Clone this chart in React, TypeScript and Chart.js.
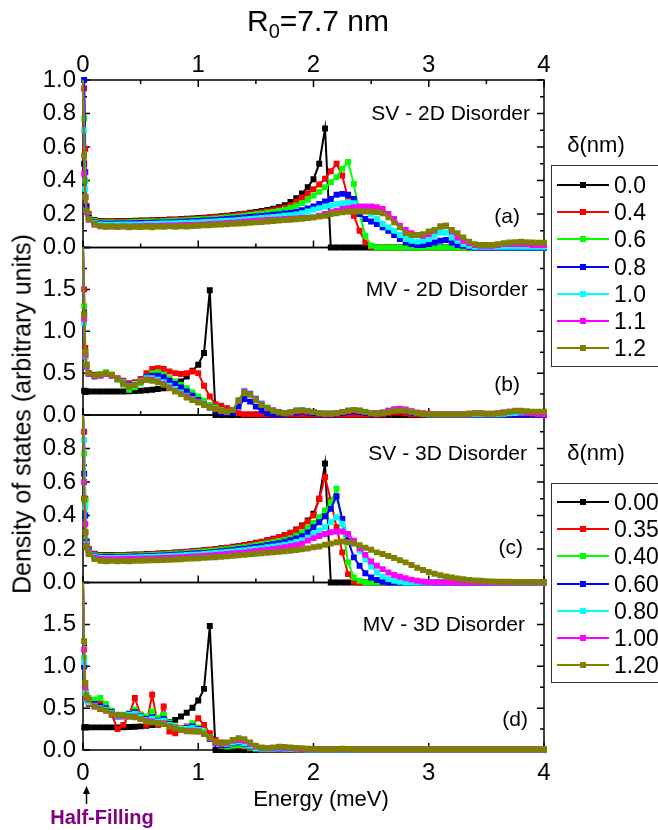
import React, { useEffect, useRef } from 'react';
import { Chart, registerables } from 'chart.js';
Chart.register(...registerables);

const FONT = "Arial, 'Liberation Sans', Helvetica, sans-serif";

// Energy grid (meV)
const energy = [0, 0.01, 0.02, 0.03,
  0.05, 0.1, 0.15, 0.2, 0.25, 0.3, 0.35, 0.4, 0.45, 0.5,
  0.55, 0.6, 0.65, 0.7, 0.75, 0.8, 0.85, 0.9, 0.95, 1.0,
  1.05, 1.1, 1.15, 1.2, 1.25, 1.3, 1.35, 1.4, 1.45, 1.5,
  1.55, 1.6, 1.65, 1.7, 1.75, 1.8, 1.85, 1.9, 1.95, 2.0,
  2.05, 2.1, 2.15, 2.2, 2.25, 2.3, 2.35, 2.4, 2.45, 2.5,
  2.55, 2.6, 2.65, 2.7, 2.75, 2.8, 2.85, 2.9, 2.95, 3.0,
  3.05, 3.1, 3.15, 3.2, 3.25, 3.3, 3.35, 3.4, 3.45, 3.5,
  3.55, 3.6, 3.65, 3.7, 3.75, 3.8, 3.85, 3.9, 3.95, 4.0];

const colors = ['#000000', '#FF0000', '#00FF00', '#0000FF', '#00FFFF', '#FF00FF', '#808000'];
const legend2D = ['0.0', '0.4', '0.6', '0.8', '1.0', '1.1', '1.2'];
const legend3D = ['0.00', '0.35', '0.40', '0.60', '0.80', '1.00', '1.20'];

// (a) SV - 2D disorder
const sv2d_00 = [1.0, 0.5, 0.3, 0.22,
  0.19, 0.165, 0.158, 0.157, 0.157, 0.158, 0.158, 0.159, 0.16, 0.161,
  0.162, 0.163, 0.164, 0.165, 0.167, 0.168, 0.17, 0.172, 0.174, 0.176,
  0.178, 0.181, 0.184, 0.187, 0.19, 0.194, 0.198, 0.202, 0.207, 0.212,
  0.218, 0.224, 0.231, 0.24, 0.252, 0.272, 0.294, 0.322, 0.36, 0.408,
  0.5, 0.71, 0, 0, 0, 0, 0, 0, 0, 0,
  0, 0, 0, 0, 0, 0, 0, 0, 0, 0,
  0, 0, 0, 0, 0, 0, 0, 0, 0, 0,
  0, 0, 0, 0, 0, 0, 0, 0, 0, 0];
const sv2d_04 = [1.0, 0.95, 0.59, 0.25,
  0.2, 0.162, 0.155, 0.154, 0.154, 0.155, 0.155, 0.156, 0.157, 0.158,
  0.159, 0.16, 0.161, 0.162, 0.164, 0.165, 0.167, 0.169, 0.171, 0.173,
  0.175, 0.178, 0.181, 0.184, 0.187, 0.19, 0.194, 0.198, 0.202, 0.206,
  0.211, 0.216, 0.222, 0.229, 0.237, 0.252, 0.274, 0.298, 0.322, 0.348,
  0.376, 0.41, 0.455, 0.5, 0.43, 0.29, 0.19, 0.1, 0.03, 0.005,
  0, 0, 0, 0, 0, 0, 0, 0, 0, 0,
  0, 0, 0, 0, 0, 0, 0, 0, 0, 0,
  0, 0, 0, 0, 0, 0, 0, 0, 0, 0];
const sv2d_06 = [1.0, 0.77, 0.4, 0.23,
  0.19, 0.158, 0.15, 0.149, 0.149, 0.15, 0.15, 0.151, 0.152, 0.153,
  0.154, 0.155, 0.156, 0.157, 0.158, 0.16, 0.161, 0.163, 0.165, 0.167,
  0.169, 0.171, 0.174, 0.177, 0.18, 0.183, 0.186, 0.19, 0.194, 0.198,
  0.202, 0.207, 0.212, 0.218, 0.225, 0.238, 0.25, 0.265, 0.285, 0.31,
  0.332, 0.36, 0.39, 0.42, 0.47, 0.51, 0.38, 0.2, 0.07, 0.01,
  0, 0, 0, 0, 0, 0, 0, 0, 0, 0,
  0, 0, 0, 0, 0, 0, 0, 0, 0, 0,
  0, 0, 0, 0, 0, 0, 0, 0, 0, 0];
const sv2d_08 = [1.0, 1.0, 0.45, 0.24,
  0.18, 0.15, 0.143, 0.142, 0.142, 0.143, 0.143, 0.144, 0.145, 0.146,
  0.147, 0.148, 0.149, 0.15, 0.151, 0.152, 0.154, 0.155, 0.157, 0.159,
  0.161, 0.163, 0.165, 0.168, 0.17, 0.173, 0.176, 0.179, 0.182, 0.185,
  0.188, 0.191, 0.195, 0.199, 0.203, 0.206, 0.213, 0.222, 0.233, 0.245,
  0.26, 0.275, 0.29, 0.315, 0.32, 0.315, 0.29, 0.2, 0.17, 0.155,
  0.14, 0.12, 0.1, 0.075, 0.05, 0.03, 0.02, 0.015, 0.015, 0.02,
  0.03, 0.04, 0.045, 0.03, 0.015, 0.01, 0.005, 0, 0, 0,
  0, 0, 0, 0, 0, 0, 0, 0, 0, 0];
const sv2d_10 = [1.0, 0.7, 0.35, 0.22,
  0.17, 0.145, 0.138, 0.136, 0.136, 0.137, 0.137, 0.138, 0.138, 0.139,
  0.14, 0.141, 0.142, 0.143, 0.144, 0.145, 0.146, 0.147, 0.149, 0.15,
  0.152, 0.154, 0.156, 0.158, 0.16, 0.162, 0.165, 0.168, 0.171, 0.174,
  0.177, 0.18, 0.183, 0.186, 0.189, 0.192, 0.197, 0.205, 0.215, 0.225,
  0.235, 0.245, 0.25, 0.26, 0.265, 0.27, 0.265, 0.24, 0.22, 0.2,
  0.17, 0.14, 0.12, 0.1, 0.075, 0.05, 0.04, 0.035, 0.04, 0.05,
  0.07, 0.09, 0.09, 0.06, 0.04, 0.02, 0.01, 0.005, 0.005, 0.005,
  0.005, 0.005, 0.005, 0.005, 0.005, 0.005, 0.005, 0.005, 0.005, 0.005];
const sv2d_11 = [1.0, 0.44, 0.3, 0.21,
  0.165, 0.135, 0.127, 0.125, 0.125, 0.125, 0.126, 0.126, 0.127, 0.127,
  0.128, 0.128, 0.129, 0.13, 0.131, 0.132, 0.133, 0.134, 0.135, 0.136,
  0.138, 0.14, 0.142, 0.144, 0.146, 0.148, 0.151, 0.154, 0.157, 0.16,
  0.162, 0.164, 0.166, 0.168, 0.17, 0.172, 0.174, 0.176, 0.178, 0.18,
  0.19, 0.2, 0.21, 0.22, 0.23, 0.235, 0.24, 0.245, 0.245, 0.245,
  0.24, 0.23, 0.2, 0.17, 0.13, 0.105, 0.085, 0.075, 0.07, 0.08,
  0.1, 0.125, 0.13, 0.095, 0.06, 0.04, 0.025, 0.015, 0.01, 0.01,
  0.01, 0.015, 0.02, 0.02, 0.02, 0.02, 0.02, 0.015, 0.015, 0.015];
const sv2d_12 = [1.0, 0.55, 0.3, 0.22,
  0.17, 0.14, 0.128, 0.124, 0.127, 0.122, 0.125, 0.121, 0.124, 0.122,
  0.124, 0.121, 0.125, 0.123, 0.126, 0.124, 0.127, 0.125, 0.128, 0.13,
  0.132, 0.133, 0.135, 0.137, 0.139, 0.141, 0.143, 0.145, 0.148, 0.15,
  0.152, 0.155, 0.158, 0.161, 0.164, 0.166, 0.169, 0.172, 0.176, 0.18,
  0.185, 0.19, 0.2, 0.205, 0.21, 0.213, 0.215, 0.215, 0.215, 0.214,
  0.212, 0.205, 0.18, 0.15, 0.12, 0.085, 0.075, 0.075, 0.08, 0.095,
  0.105, 0.125, 0.13, 0.105, 0.085, 0.06, 0.035, 0.02, 0.015, 0.015,
  0.015, 0.02, 0.025, 0.03, 0.032, 0.035, 0.032, 0.03, 0.028, 0.028];

// (b) MV - 2D disorder
const mv2d_00 = [0.3, 0.29, 0.28, 0.28,
  0.28, 0.28, 0.28, 0.28, 0.28, 0.28, 0.28, 0.282, 0.285, 0.29,
  0.295, 0.302, 0.31, 0.32, 0.335, 0.36, 0.4, 0.46, 0.53, 0.6,
  0.74, 1.49, 0, 0, 0, 0, 0, 0, 0, 0,
  0, 0, 0, 0, 0, 0, 0, 0, 0, 0,
  0, 0, 0, 0, 0, 0, 0, 0, 0, 0,
  0, 0, 0, 0, 0, 0, 0, 0, 0, 0,
  0, 0, 0, 0, 0, 0, 0, 0, 0, 0,
  0, 0, 0, 0, 0, 0, 0, 0, 0, 0];
const mv2d_04 = [2.0, 1.5, 0.8, 0.6,
  0.5, 0.48, 0.48, 0.49, 0.47, 0.44, 0.41, 0.38, 0.39, 0.43,
  0.5, 0.55, 0.56, 0.55, 0.52, 0.5, 0.49, 0.5, 0.52, 0.5,
  0.35, 0.22, 0.13, 0.11, 0.08, 0.04, 0.02, 0.01, 0.01, 0.01,
  0.01, 0.01, 0.005, 0.005, 0.005, 0.005, 0.01, 0.01, 0.005, 0.005,
  0.005, 0.005, 0.005, 0.005, 0.005, 0.005, 0.005, 0.005, 0.005, 0.005,
  0.005, 0.01, 0.02, 0.03, 0.03, 0.02, 0.01, 0.005, 0.005, 0.005,
  0.005, 0.005, 0.005, 0.005, 0.005, 0.005, 0.005, 0.005, 0.005, 0.005,
  0.005, 0.005, 0.005, 0.005, 0.005, 0.005, 0.005, 0.005, 0.005, 0.005];
const mv2d_06 = [2.0, 1.3, 0.75, 0.6,
  0.5, 0.47, 0.49, 0.51, 0.48, 0.42, 0.36, 0.3, 0.33, 0.38,
  0.45, 0.5, 0.51, 0.48, 0.44, 0.4, 0.36, 0.32, 0.27, 0.22,
  0.17, 0.12, 0.09, 0.06, 0.04, 0.05, 0.14, 0.26, 0.25, 0.19,
  0.13, 0.08, 0.05, 0.03, 0.02, 0.03, 0.05, 0.055, 0.045, 0.03,
  0.02, 0.015, 0.015, 0.02, 0.03, 0.045, 0.05, 0.045, 0.03, 0.02,
  0.02, 0.03, 0.05, 0.065, 0.07, 0.06, 0.04, 0.025, 0.015, 0.01,
  0.01, 0.01, 0.01, 0.01, 0.01, 0.01, 0.01, 0.01, 0.01, 0.01,
  0.01, 0.01, 0.01, 0.015, 0.02, 0.02, 0.015, 0.01, 0.01, 0.01];
const mv2d_08 = [2.0, 1.2, 0.7, 0.58,
  0.5, 0.47, 0.47, 0.49, 0.47, 0.43, 0.39, 0.36, 0.37, 0.41,
  0.45, 0.47, 0.47, 0.45, 0.41, 0.37, 0.33, 0.28, 0.23, 0.18,
  0.13, 0.09, 0.06, 0.03, 0.02, 0.03, 0.1, 0.19, 0.16, 0.1,
  0.05, 0.02, 0.01, 0.01, 0.01, 0.02, 0.03, 0.04, 0.03, 0.02,
  0.015, 0.01, 0.01, 0.015, 0.025, 0.035, 0.04, 0.035, 0.025, 0.015,
  0.015, 0.02, 0.035, 0.05, 0.055, 0.045, 0.03, 0.02, 0.01, 0.005,
  0.005, 0.005, 0.005, 0.005, 0.005, 0.005, 0.005, 0.005, 0.005, 0.005,
  0.005, 0.005, 0.005, 0.005, 0.005, 0.005, 0.005, 0.005, 0.005, 0.005];
const mv2d_10 = [2.0, 1.1, 0.7, 0.58,
  0.49, 0.46, 0.47, 0.49, 0.47, 0.43, 0.39, 0.35, 0.37, 0.41,
  0.44, 0.44, 0.42, 0.39, 0.35, 0.31, 0.27, 0.23, 0.19, 0.16,
  0.125, 0.095, 0.07, 0.05, 0.035, 0.06, 0.18, 0.29, 0.26, 0.2,
  0.14, 0.09, 0.06, 0.04, 0.025, 0.035, 0.055, 0.06, 0.05, 0.035,
  0.025, 0.02, 0.02, 0.025, 0.035, 0.05, 0.06, 0.055, 0.04, 0.025,
  0.02, 0.025, 0.04, 0.055, 0.06, 0.055, 0.04, 0.025, 0.015, 0.01,
  0.01, 0.01, 0.01, 0.01, 0.01, 0.01, 0.01, 0.01, 0.01, 0.01,
  0.01, 0.01, 0.015, 0.02, 0.025, 0.03, 0.03, 0.025, 0.02, 0.015];
const mv2d_11 = [2.0, 1.15, 0.72, 0.58,
  0.49, 0.46, 0.47, 0.49, 0.47, 0.43, 0.38, 0.34, 0.36, 0.4,
  0.42, 0.42, 0.4, 0.37, 0.33, 0.29, 0.255, 0.22, 0.185, 0.155,
  0.125, 0.095, 0.07, 0.05, 0.035, 0.06, 0.17, 0.28, 0.25, 0.19,
  0.13, 0.085, 0.055, 0.035, 0.02, 0.03, 0.05, 0.055, 0.045, 0.035,
  0.02, 0.015, 0.015, 0.02, 0.035, 0.05, 0.06, 0.05, 0.035, 0.02,
  0.02, 0.03, 0.05, 0.07, 0.075, 0.065, 0.045, 0.03, 0.02, 0.015,
  0.01, 0.01, 0.01, 0.01, 0.01, 0.01, 0.015, 0.02, 0.02, 0.015,
  0.015, 0.02, 0.03, 0.04, 0.045, 0.04, 0.03, 0.02, 0.015, 0.01];
const mv2d_12 = [2.0, 1.2, 0.75, 0.6,
  0.5, 0.47, 0.48, 0.5, 0.48, 0.43, 0.38, 0.34, 0.36, 0.4,
  0.42, 0.41, 0.39, 0.36, 0.32, 0.28, 0.25, 0.21, 0.18, 0.15,
  0.12, 0.09, 0.07, 0.05, 0.035, 0.06, 0.17, 0.27, 0.24, 0.18,
  0.12, 0.08, 0.05, 0.03, 0.02, 0.03, 0.05, 0.055, 0.045, 0.035,
  0.02, 0.015, 0.015, 0.02, 0.035, 0.05, 0.06, 0.05, 0.035, 0.02,
  0.015, 0.02, 0.035, 0.05, 0.055, 0.05, 0.04, 0.025, 0.015, 0.01,
  0.01, 0.01, 0.01, 0.01, 0.01, 0.01, 0.015, 0.02, 0.02, 0.015,
  0.015, 0.02, 0.03, 0.04, 0.05, 0.05, 0.045, 0.04, 0.04, 0.04];

// (c) SV - 3D disorder
const sv3d_000 = [1.0, 0.5, 0.3, 0.23,
  0.2, 0.172, 0.165, 0.164, 0.164, 0.165, 0.165, 0.166, 0.167, 0.168,
  0.17, 0.171, 0.173, 0.175, 0.177, 0.179, 0.181, 0.184, 0.187, 0.19,
  0.193, 0.196, 0.2, 0.204, 0.208, 0.213, 0.218, 0.224, 0.23, 0.237,
  0.244, 0.252, 0.261, 0.271, 0.282, 0.297, 0.316, 0.34, 0.37, 0.41,
  0.5, 0.71, 0, 0, 0, 0, 0, 0, 0, 0,
  0, 0, 0, 0, 0, 0, 0, 0, 0, 0,
  0, 0, 0, 0, 0, 0, 0, 0, 0, 0,
  0, 0, 0, 0, 0, 0, 0, 0, 0, 0];
const sv3d_035 = [1.0, 0.9, 0.5, 0.25,
  0.2, 0.17, 0.163, 0.162, 0.162, 0.163, 0.163, 0.164, 0.165, 0.166,
  0.168, 0.169, 0.171, 0.173, 0.175, 0.177, 0.179, 0.182, 0.185, 0.188,
  0.191, 0.194, 0.198, 0.202, 0.206, 0.211, 0.216, 0.222, 0.228, 0.235,
  0.242, 0.25, 0.259, 0.269, 0.28, 0.295, 0.313, 0.336, 0.364, 0.4,
  0.5, 0.63, 0.49, 0.33, 0.18, 0.05, 0.005, 0, 0, 0,
  0, 0, 0, 0, 0, 0, 0, 0, 0, 0,
  0, 0, 0, 0, 0, 0, 0, 0, 0, 0,
  0, 0, 0, 0, 0, 0, 0, 0, 0, 0];
const sv3d_040 = [1.0, 0.77, 0.49, 0.25,
  0.19, 0.165, 0.158, 0.157, 0.157, 0.158, 0.158, 0.159, 0.16, 0.161,
  0.163, 0.164, 0.166, 0.168, 0.17, 0.172, 0.174, 0.176, 0.179, 0.182,
  0.185, 0.188, 0.191, 0.195, 0.199, 0.203, 0.207, 0.212, 0.217, 0.222,
  0.228, 0.234, 0.241, 0.248, 0.256, 0.265, 0.28, 0.3, 0.325, 0.355,
  0.39, 0.43, 0.48, 0.56, 0.35, 0.12, 0.03, 0.01, 0, 0,
  0, 0, 0, 0, 0, 0, 0, 0, 0, 0,
  0, 0, 0, 0, 0, 0, 0, 0, 0, 0,
  0, 0, 0, 0, 0, 0, 0, 0, 0, 0];
const sv3d_060 = [1.0, 0.65, 0.4, 0.24,
  0.185, 0.16, 0.153, 0.152, 0.152, 0.153, 0.153, 0.154, 0.155, 0.156,
  0.157, 0.159, 0.16, 0.162, 0.164, 0.166, 0.168, 0.17, 0.172, 0.175,
  0.177, 0.18, 0.183, 0.187, 0.19, 0.194, 0.198, 0.202, 0.207, 0.212,
  0.217, 0.222, 0.228, 0.235, 0.243, 0.252, 0.263, 0.277, 0.298, 0.33,
  0.36, 0.395, 0.44, 0.515, 0.38, 0.25, 0.15, 0.1, 0.055, 0.03,
  0.015, 0.005, 0, 0, 0, 0, 0, 0, 0, 0,
  0, 0, 0, 0, 0, 0, 0, 0, 0, 0,
  0, 0, 0, 0, 0, 0, 0, 0, 0, 0];
const sv3d_080 = [1.0, 0.85, 0.45, 0.23,
  0.18, 0.155, 0.148, 0.147, 0.147, 0.148, 0.148, 0.149, 0.15, 0.151,
  0.152, 0.153, 0.155, 0.156, 0.158, 0.16, 0.162, 0.164, 0.166, 0.168,
  0.17, 0.173, 0.176, 0.179, 0.182, 0.185, 0.189, 0.193, 0.197, 0.201,
  0.205, 0.21, 0.215, 0.22, 0.226, 0.233, 0.242, 0.253, 0.267, 0.29,
  0.31, 0.33, 0.36, 0.39, 0.35, 0.29, 0.24, 0.19, 0.14, 0.095,
  0.06, 0.035, 0.02, 0.01, 0.005, 0, 0, 0, 0, 0,
  0, 0, 0, 0, 0, 0, 0, 0, 0, 0,
  0, 0, 0, 0, 0, 0, 0, 0, 0, 0];
const sv3d_100 = [1.0, 0.6, 0.35, 0.22,
  0.175, 0.148, 0.14, 0.139, 0.139, 0.139, 0.14, 0.14, 0.141, 0.142,
  0.143, 0.144, 0.145, 0.146, 0.148, 0.149, 0.151, 0.153, 0.155, 0.157,
  0.159, 0.161, 0.164, 0.167, 0.17, 0.173, 0.176, 0.18, 0.184, 0.188,
  0.192, 0.196, 0.2, 0.205, 0.21, 0.216, 0.223, 0.232, 0.25, 0.265,
  0.278, 0.29, 0.3, 0.305, 0.305, 0.29, 0.25, 0.205, 0.165, 0.125,
  0.1, 0.08, 0.06, 0.045, 0.034, 0.025, 0.017, 0.01, 0.005, 0.002,
  0, 0, 0, 0, 0, 0, 0, 0, 0, 0,
  0, 0, 0, 0, 0, 0, 0, 0, 0, 0];
const sv3d_120 = [1.0, 0.5, 0.3, 0.21,
  0.17, 0.14, 0.13, 0.127, 0.129, 0.126, 0.128, 0.127, 0.129, 0.13,
  0.131, 0.132, 0.133, 0.134, 0.135, 0.137, 0.139, 0.141, 0.143, 0.145,
  0.147, 0.149, 0.151, 0.153, 0.156, 0.159, 0.162, 0.165, 0.168, 0.171,
  0.174, 0.177, 0.18, 0.183, 0.186, 0.19, 0.194, 0.198, 0.203, 0.21,
  0.215, 0.225, 0.232, 0.24, 0.244, 0.24, 0.232, 0.222, 0.207, 0.195,
  0.18, 0.17, 0.158, 0.146, 0.133, 0.12, 0.104, 0.088, 0.075, 0.063,
  0.052, 0.043, 0.036, 0.03, 0.024, 0.019, 0.015, 0.012, 0.01, 0.008,
  0.006, 0.005, 0.004, 0.004, 0.003, 0.003, 0.003, 0.003, 0.003, 0.003];

// (d) MV - 3D disorder
const mv3d_000 = [0.28, 0.27, 0.27, 0.27,
  0.27, 0.27, 0.27, 0.27, 0.27, 0.27, 0.272, 0.275, 0.278, 0.282,
  0.29, 0.297, 0.305, 0.315, 0.335, 0.36, 0.4, 0.445, 0.505, 0.59,
  0.73, 1.48, 0, 0, 0, 0, 0, 0, 0, 0,
  0, 0, 0, 0, 0, 0, 0, 0, 0, 0,
  0, 0, 0, 0, 0, 0, 0, 0, 0, 0,
  0, 0, 0, 0, 0, 0, 0, 0, 0, 0,
  0, 0, 0, 0, 0, 0, 0, 0, 0, 0,
  0, 0, 0, 0, 0, 0, 0, 0, 0, 0];
const mv3d_035 = [2.0, 1.0, 0.7, 0.6,
  0.55, 0.58, 0.55, 0.5, 0.42, 0.25, 0.3, 0.42, 0.62, 0.42,
  0.3, 0.66, 0.3, 0.52, 0.22, 0.2, 0.26, 0.28, 0.3, 0.38,
  0.3, 0.2, 0.12, 0.09, 0.07, 0.06, 0.05, 0.04, 0.02, 0.01,
  0.005, 0.005, 0.005, 0.005, 0.005, 0.005, 0.005, 0.005, 0.005, 0.005,
  0.005, 0.005, 0.005, 0.005, 0.005, 0.005, 0.005, 0.005, 0.005, 0.005,
  0.005, 0.005, 0.005, 0.005, 0.005, 0.005, 0.005, 0.005, 0.005, 0.005,
  0.005, 0.005, 0.005, 0.005, 0.005, 0.005, 0.005, 0.005, 0.005, 0.005,
  0.005, 0.005, 0.005, 0.005, 0.005, 0.005, 0.005, 0.005, 0.005, 0.005];
const mv3d_040 = [2.0, 1.1, 0.7, 0.62,
  0.62, 0.6, 0.62, 0.55, 0.47, 0.4, 0.42, 0.44, 0.48, 0.42,
  0.4, 0.46, 0.38, 0.42, 0.33, 0.28, 0.25, 0.27, 0.32, 0.27,
  0.22, 0.15, 0.09, 0.05, 0.04, 0.05, 0.06, 0.05, 0.03, 0.015,
  0.01, 0.01, 0.01, 0.01, 0.01, 0.01, 0.01, 0.008, 0.006, 0.005,
  0.005, 0.005, 0.005, 0.005, 0.005, 0.005, 0.005, 0.005, 0.005, 0.005,
  0.005, 0.005, 0.005, 0.005, 0.005, 0.005, 0.005, 0.005, 0.005, 0.005,
  0.005, 0.005, 0.005, 0.005, 0.005, 0.005, 0.005, 0.005, 0.005, 0.005,
  0.005, 0.005, 0.005, 0.005, 0.005, 0.005, 0.005, 0.005, 0.005, 0.005];
const mv3d_060 = [2.0, 1.0, 0.68, 0.6,
  0.58, 0.55, 0.52, 0.5, 0.45, 0.4, 0.41, 0.43, 0.45, 0.4,
  0.37, 0.39, 0.35, 0.37, 0.31, 0.27, 0.25, 0.26, 0.28, 0.25,
  0.2, 0.13, 0.08, 0.06, 0.06, 0.08, 0.09, 0.07, 0.04, 0.02,
  0.01, 0.01, 0.01, 0.012, 0.012, 0.01, 0.01, 0.008, 0.006, 0.005,
  0.005, 0.005, 0.005, 0.005, 0.005, 0.005, 0.005, 0.005, 0.005, 0.005,
  0.005, 0.005, 0.005, 0.005, 0.005, 0.005, 0.005, 0.005, 0.005, 0.005,
  0.005, 0.005, 0.005, 0.005, 0.005, 0.005, 0.005, 0.005, 0.005, 0.005,
  0.005, 0.005, 0.005, 0.005, 0.005, 0.005, 0.005, 0.005, 0.005, 0.005];
const mv3d_080 = [2.0, 1.05, 0.68, 0.6,
  0.57, 0.53, 0.5, 0.48, 0.44, 0.4, 0.4, 0.42, 0.43, 0.39,
  0.36, 0.37, 0.34, 0.35, 0.3, 0.27, 0.25, 0.25, 0.26, 0.24,
  0.2, 0.14, 0.09, 0.07, 0.07, 0.09, 0.1, 0.08, 0.05, 0.025,
  0.015, 0.012, 0.015, 0.018, 0.015, 0.012, 0.01, 0.008, 0.006, 0.005,
  0.005, 0.005, 0.005, 0.005, 0.005, 0.005, 0.005, 0.005, 0.005, 0.005,
  0.005, 0.005, 0.005, 0.005, 0.005, 0.005, 0.005, 0.005, 0.005, 0.005,
  0.005, 0.005, 0.005, 0.005, 0.005, 0.005, 0.005, 0.005, 0.005, 0.005,
  0.005, 0.005, 0.005, 0.005, 0.005, 0.005, 0.005, 0.005, 0.005, 0.005];
const mv3d_100 = [2.0, 1.2, 0.75, 0.62,
  0.6, 0.52, 0.49, 0.47, 0.43, 0.41, 0.4, 0.4, 0.4, 0.37,
  0.35, 0.34, 0.32, 0.32, 0.28, 0.26, 0.24, 0.23, 0.23, 0.22,
  0.19, 0.14, 0.09, 0.07, 0.08, 0.11, 0.12, 0.11, 0.07, 0.04,
  0.025, 0.02, 0.025, 0.03, 0.025, 0.02, 0.015, 0.012, 0.01, 0.01,
  0.008, 0.008, 0.008, 0.008, 0.008, 0.008, 0.008, 0.008, 0.008, 0.008,
  0.006, 0.006, 0.006, 0.006, 0.006, 0.006, 0.006, 0.006, 0.006, 0.006,
  0.005, 0.005, 0.005, 0.005, 0.005, 0.005, 0.005, 0.005, 0.005, 0.005,
  0.005, 0.005, 0.005, 0.005, 0.005, 0.005, 0.005, 0.005, 0.005, 0.005];
const mv3d_120 = [2.0, 1.3, 0.8, 0.65,
  0.6, 0.52, 0.49, 0.47, 0.43, 0.42, 0.41, 0.4, 0.39, 0.37,
  0.34, 0.33, 0.32, 0.31, 0.28, 0.26, 0.24, 0.225, 0.22, 0.22,
  0.19, 0.15, 0.1, 0.08, 0.09, 0.12, 0.14, 0.13, 0.09, 0.05,
  0.03, 0.02, 0.03, 0.04, 0.035, 0.03, 0.025, 0.02, 0.015, 0.012,
  0.01, 0.01, 0.01, 0.012, 0.015, 0.012, 0.01, 0.01, 0.01, 0.01,
  0.01, 0.01, 0.01, 0.01, 0.01, 0.01, 0.01, 0.01, 0.01, 0.01,
  0.01, 0.01, 0.01, 0.01, 0.01, 0.01, 0.01, 0.01, 0.01, 0.01,
  0.01, 0.01, 0.01, 0.01, 0.01, 0.01, 0.01, 0.01, 0.01, 0.01];

const panels = [
  { axis: 'ya', max: 1, step: 0.2, labels: legend2D, series: [sv2d_00, sv2d_04, sv2d_06, sv2d_08, sv2d_10, sv2d_11, sv2d_12] },
  { axis: 'yb', max: 2, step: 0.5, labels: legend2D, series: [mv2d_00, mv2d_04, mv2d_06, mv2d_08, mv2d_10, mv2d_11, mv2d_12] },
  { axis: 'yc', max: 1, step: 0.2, labels: legend3D, series: [sv3d_000, sv3d_035, sv3d_040, sv3d_060, sv3d_080, sv3d_100, sv3d_120] },
  { axis: 'yd', max: 2, step: 0.5, labels: legend3D, series: [mv3d_000, mv3d_035, mv3d_040, mv3d_060, mv3d_080, mv3d_100, mv3d_120] },
];

const framePlugin = {
  id: 'panelFrames',
  beforeDatasetsDraw(chart: any) {
    const { ctx, chartArea } = chart;
    const xs = chart.scales.x;
    const L = chartArea.left, R = chartArea.right;
    ctx.save();
    ctx.strokeStyle = '#000';
    ctx.lineWidth = 1.5;
    panels.forEach((p, k) => {
      const s = chart.scales[p.axis];
      const top = s.top, bot = s.bottom;
      ctx.strokeRect(L, top, R - L, bot - top);
      ctx.beginPath();
      const minor = p.step / 2;
      const n = Math.round(p.max / minor);
      for (let i = 0; i <= n; i++) {
        const y = s.getPixelForValue(i * minor);
        const len = i % 2 === 0 ? 7 : 4;
        ctx.moveTo(L, y); ctx.lineTo(L + len, y);
        ctx.moveTo(R, y); ctx.lineTo(R - len, y);
      }
      for (let i = 0; i <= 8; i++) {
        const x = xs.getPixelForValue(i * 0.5);
        const len = i % 2 === 0 ? 7 : 4;
        ctx.moveTo(x, bot); ctx.lineTo(x, bot - len);
        if (k === 0) { ctx.moveTo(x, top); ctx.lineTo(x, top + len); }
      }
      ctx.stroke();
    });
    ctx.restore();
  },
};

function T(props: { x: number; y: number; size: number; children: any; anchor?: string; bold?: boolean; color?: string; rotate?: boolean }) {
  const tx = props.anchor === 'right' ? '-100%' : props.anchor === 'left' ? '0' : '-50%';
  return (
    <div style={{
      position: 'absolute', left: props.x, top: props.y,
      transform: `translate(${tx}, -50%)` + (props.rotate ? ' rotate(-90deg)' : ''),
      fontSize: props.size, lineHeight: 1, fontFamily: FONT, whiteSpace: 'nowrap',
      fontWeight: props.bold ? 700 : 400, color: props.color || '#000',
    }}>{props.children}</div>
  );
}

function LegendBox(props: { titleY: number; boxTop: number; boxBottom: number; first: number; labels: string[] }) {
  return (
    <>
      <T x={596} y={props.titleY} size={22}>δ(nm)</T>
      <div style={{ position: 'absolute', left: 551, top: props.boxTop, width: 130, height: props.boxBottom - props.boxTop, border: '1.5px solid #333', boxSizing: 'border-box' }} />
      {props.labels.map((lab, i) => {
        const y = props.first + i * 27.2;
        return (
          <React.Fragment key={lab}>
            <div style={{ position: 'absolute', left: 557, top: y - 1, width: 52, height: 2, background: colors[i] }} />
            <div style={{ position: 'absolute', left: 580, top: y - 3, width: 6, height: 6, background: colors[i] }} />
            <T x={614} y={y} size={23} anchor="left">{lab}</T>
          </React.Fragment>
        );
      })}
    </>
  );
}

export default function App() {
  const ref = useRef<HTMLCanvasElement>(null);
  useEffect(() => {
    if (!ref.current) return;
    const datasets: any[] = [];
    panels.forEach((p) => {
      p.series.forEach((vals, i) => {
        datasets.push({
          label: p.axis + ' ' + p.labels[i],
          data: vals.map((v, j) => ({ x: energy[j], y: v })),
          xAxisID: 'x', yAxisID: p.axis,
          borderColor: colors[i], backgroundColor: colors[i],
          borderWidth: 2, pointStyle: 'rect',
          pointRadius: (c: any) => (c.dataIndex === 0 ? 0 : 4.2),
          pointBorderWidth: 0, pointHoverRadius: 0,
          tension: 0, fill: false, order: 10 - i, clip: 5,
        });
      });
    });
    const tickFont = { family: FONT, size: 24 };
    const yAxis = (max: number, step: number, hideTop: boolean) => ({
      type: 'linear', position: 'left', stack: 'dos', stackWeight: 1,
      min: 0, max,
      grid: { display: false, drawTicks: false }, border: { display: false },
      ticks: {
        stepSize: step, font: tickFont, color: '#000', padding: 7, autoSkip: false,
        callback: (v: number) => (hideTop && Math.abs(v - max) < 1e-6 ? '' : v.toFixed(1)),
      },
      afterFit: (s: any) => { s.width = 83; },
    });
    const chart = new Chart(ref.current, {
      type: 'line',
      data: { datasets },
      plugins: [framePlugin],
      options: {
        responsive: false, animation: false, devicePixelRatio: 1, events: [],
        layout: { padding: { left: 0, right: 114, top: 50, bottom: 0 } },
        plugins: { legend: { display: false }, tooltip: { enabled: false } },
        scales: {
          x: {
            type: 'linear', position: 'bottom', min: 0, max: 4,
            grid: { display: false, drawTicks: false }, border: { display: false },
            ticks: { stepSize: 1, font: tickFont, color: '#000', padding: 9, maxRotation: 0, autoSkip: false },
            afterFit: (s: any) => { s.height = 80; },
          },
          x2: {
            type: 'linear', position: 'top', min: 0, max: 4,
            grid: { display: false, drawTicks: false }, border: { display: false },
            ticks: { stepSize: 1, font: tickFont, color: '#000', padding: 0, maxRotation: 0, autoSkip: false },
            afterFit: (s: any) => { s.height = 30; },
          },
          yd: yAxis(2, 0.5, true),
          yc: yAxis(1, 0.2, true),
          yb: yAxis(2, 0.5, true),
          ya: yAxis(1, 0.2, false),
        },
      } as any,
    });
    return () => chart.destroy();
  }, []);

  return (
    <div style={{ position: 'absolute', left: 0, top: 0, width: 658, height: 830, overflow: 'hidden', background: '#fff' }}>
      <canvas ref={ref} width={658} height={830} style={{ position: 'absolute', left: 0, top: 0 }} />
      <T x={318} y={21} size={30}>R<span style={{ fontSize: 20, position: 'relative', top: 7 }}>0</span>=7.7 nm</T>
      <T x={22} y={414} size={25} rotate>Density of states (arbitrary units)</T>
      <T x={321} y={799} size={22}>Energy (meV)</T>
      <T x={102} y={817} size={20} bold color="#800080">Half-Filling</T>
      <svg style={{ position: 'absolute', left: 80, top: 784, width: 14, height: 22 }}>
        <line x1={6.5} y1={7} x2={6.5} y2={20} stroke="#000" strokeWidth={1.5} />
        <polygon points="6.5,2 3,10 10,10" fill="#000" />
      </svg>
      <T x={530} y={112} size={21} anchor="right">SV - 2D Disorder</T>
      <T x={520} y={215} size={21} anchor="right">(a)</T>
      <T x={528} y={288} size={21} anchor="right">MV - 2D Disorder</T>
      <T x={520} y={383} size={21} anchor="right">(b)</T>
      <T x={527} y={452} size={21} anchor="right">SV - 3D Disorder</T>
      <T x={523} y={546} size={21} anchor="right">(c)</T>
      <T x={525} y={623} size={21} anchor="right">MV - 3D Disorder</T>
      <T x={528} y={718} size={21} anchor="right">(d)</T>
      <LegendBox titleY={145} boxTop={165} boxBottom={367} first={185} labels={legend2D} />
      <LegendBox titleY={453} boxTop={483} boxBottom={683} first={502} labels={legend3D} />
    </div>
  );
}
